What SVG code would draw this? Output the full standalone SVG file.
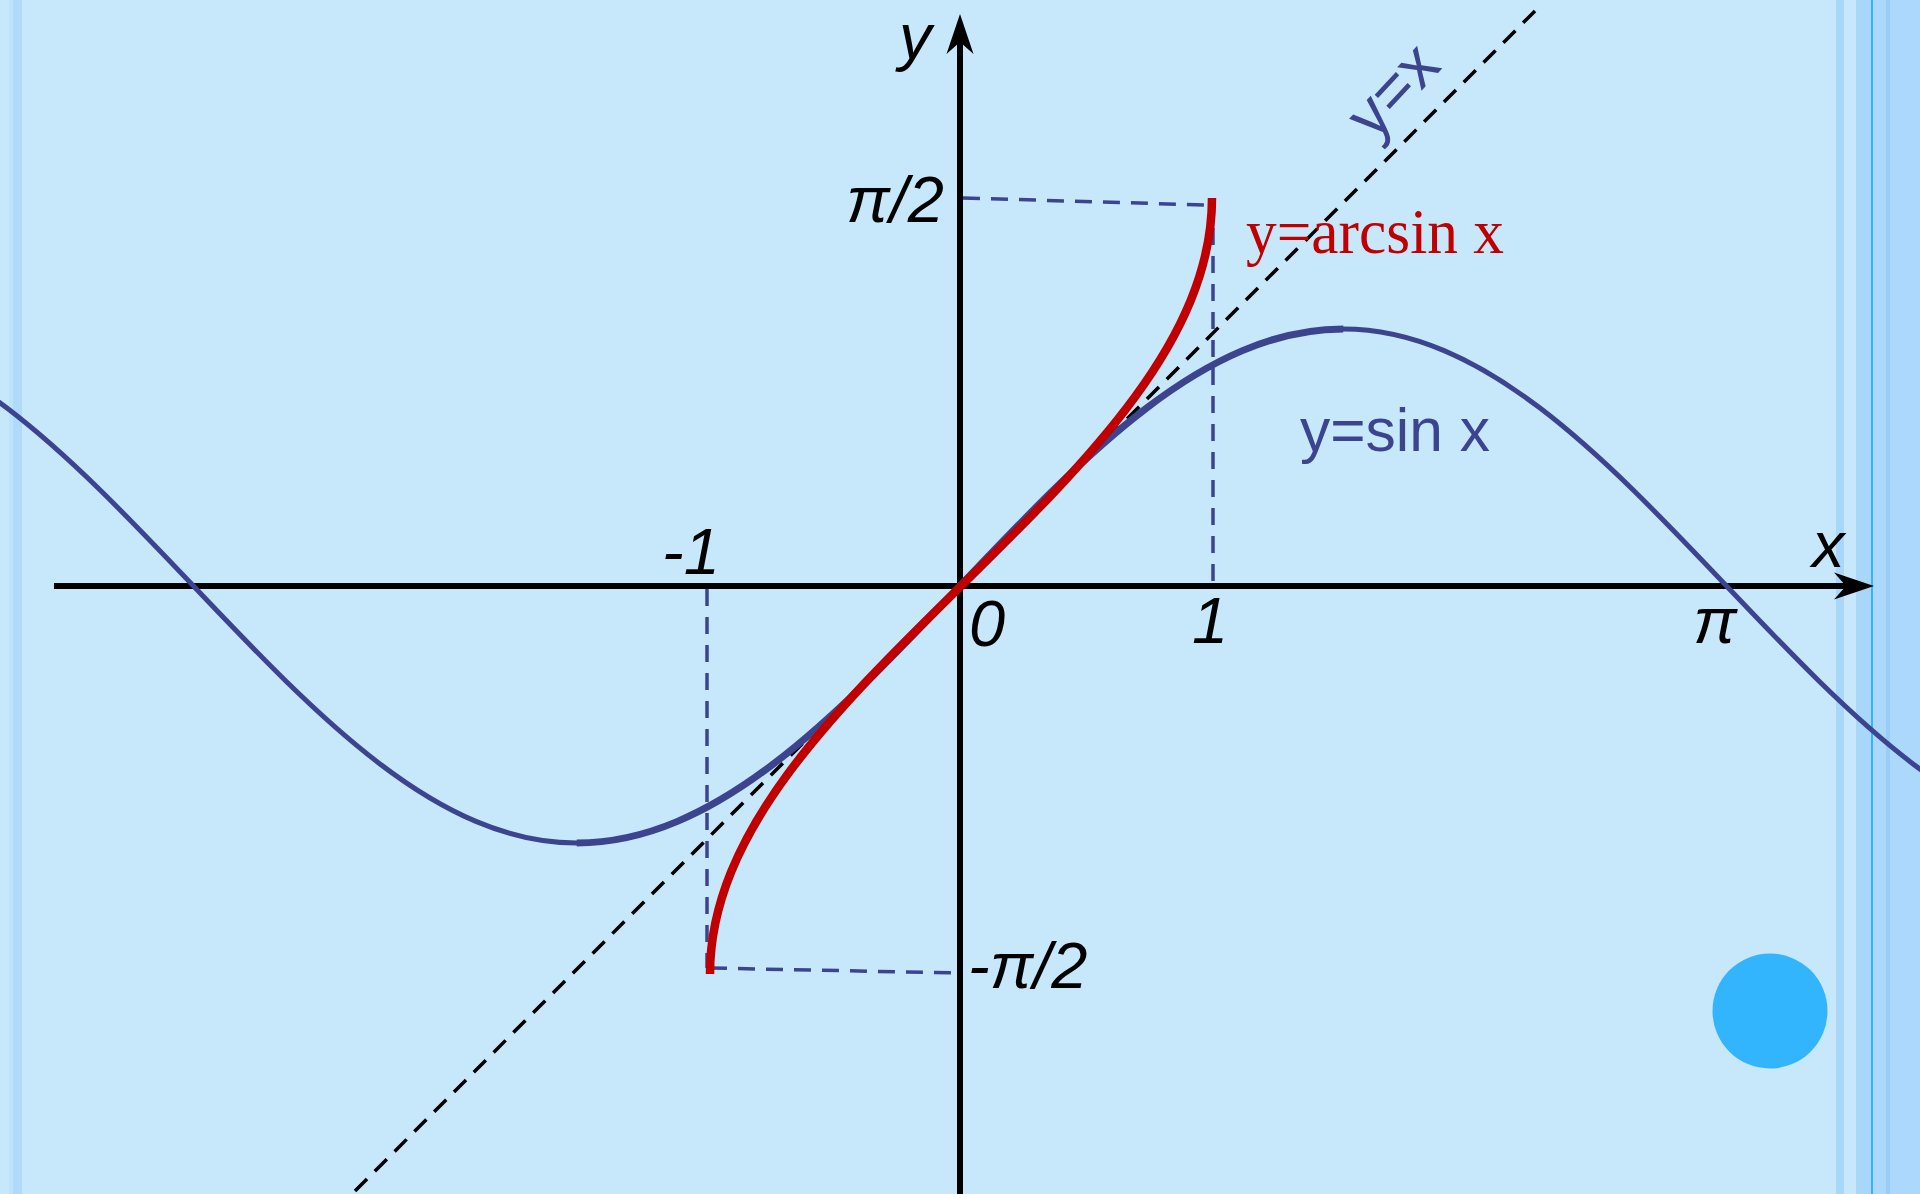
<svg xmlns="http://www.w3.org/2000/svg" width="1920" height="1194" viewBox="0 0 1920 1194">
  <style>
    .lbl { font-family: "Liberation Sans", Arial, sans-serif; font-style: italic; font-size: 65px; fill: #000; }
    .blue { stroke: #3c4490; fill: none; }
    .guide { stroke: #3c4490; stroke-width: 3.5; stroke-dasharray: 17 11; fill: none; }
    .diag { stroke: #000; stroke-width: 3.5; stroke-dasharray: 17 11; fill: none; }
    .axis { stroke: #000; stroke-width: 6; fill: none; }
  </style>
  <g id="background">
    <rect x="0" y="0" width="1920" height="1194" fill="#c7e7fb"/>
    <rect x="9" y="0" width="4" height="1194" fill="#bde2fb"/>
    <rect x="13" y="0" width="9" height="1194" fill="#b0dafa"/>
    <rect x="1836" y="0" width="8" height="1194" fill="#a9d7fa"/>
    <rect x="1856" y="0" width="15" height="1194" fill="#a9d7fa"/>
    <rect x="1871" y="0" width="2" height="1194" fill="#33b5ff"/>
    <rect x="1873" y="0" width="13" height="1194" fill="#acd8fb"/>
    <rect x="1886" y="0" width="4" height="1194" fill="#99cdf8"/>
    <rect x="1890" y="0" width="30" height="1194" fill="#acd8fb"/>
    <circle cx="1770" cy="1011" r="57.5" fill="#33b5fe"/>
  </g>
  <g id="connectors">
    <line id="line-y-eq-x" class="diag" x1="355" y1="1191" x2="1535" y2="11"/>
    <line id="guide-top-h" class="guide" x1="963" y1="198" x2="1206" y2="205"/>
    <line id="guide-right-v" class="guide" x1="1213" y1="200" x2="1213" y2="586"/>
    <line id="guide-left-v" class="guide" x1="707" y1="589" x2="707" y2="968"/>
    <line id="guide-bottom-h" class="guide" x1="710" y1="968" x2="958" y2="973"/>
  </g>
  <g id="axes">
    <line id="x-axis" class="axis" x1="54" y1="586" x2="1848" y2="586"/>
    <polygon points="1874,586 1834,572.5 1846,586 1834,599.5" fill="#000"/>
    <line id="y-axis" class="axis" x1="960" y1="1194" x2="960" y2="40"/>
    <polygon points="960,14 946.5,54 960,42 973.5,54" fill="#000"/>
  </g>
  <g id="sine-curve">
    <path class="blue" stroke-width="5" d="M -189.82,329 C -51.15,329 68.45,454.3 193.45,586 C 318.45,717.7 438.06,843 576.73,843 C 715.4,843 835,717.7 960,586 C 1085,454.3 1204.6,329 1343.27,329 C 1481.94,329 1601.55,454.3 1726.55,586 C 1851.55,717.7 1971.15,843 2109.82,843"/>
    <path class="blue" stroke-width="7" d="M 576.73,843 C 715.4,843 835,717.7 960,586 C 1085,454.3 1204.6,329 1343.27,329"/>
  </g>
  <g id="arcsin-curve">
    <path d="M 710,974 C 710,833.6 832.4,712.5 961,586 C 1089.6,459.5 1212,338.4 1212,198" stroke="#c00000" stroke-width="8.5" fill="none"/>
  </g>
  <g id="label-y-axis"><text class="lbl" x="899" y="59">y</text></g>
  <g id="label-x-axis"><text class="lbl" x="1812" y="567">x</text></g>
  <g id="label-pi-half"><text class="lbl" x="944" y="222" text-anchor="end">π/2</text></g>
  <g id="label-minus-pi-half"><text class="lbl" x="968" y="988">-π/2</text></g>
  <g id="label-minus-one"><text class="lbl" x="662" y="574">-1</text></g>
  <g id="label-zero"><text class="lbl" x="969" y="646">0</text></g>
  <g id="label-one"><text class="lbl" x="1210" y="643" text-anchor="middle">1</text></g>
  <g id="label-pi"><text class="lbl" x="1715" y="643" text-anchor="middle">π</text></g>
  <g id="label-arcsin"><text x="1246" y="253" font-family="'Liberation Serif', 'Times New Roman', serif" font-size="64" fill="#c00000" textLength="258" lengthAdjust="spacingAndGlyphs">y=arcsin x</text></g>
  <g id="label-sin"><text x="1300" y="451" font-family="'Liberation Sans', Arial, sans-serif" font-size="62" fill="#3c4490" textLength="190" lengthAdjust="spacingAndGlyphs">y=sin x</text></g>
  <g id="label-y-eq-x"><text transform="translate(1401,98) rotate(-47)" x="0" y="10" text-anchor="middle" font-family="'Liberation Sans', Arial, sans-serif" font-size="64" fill="#3c4490">y=x</text></g>
</svg>
